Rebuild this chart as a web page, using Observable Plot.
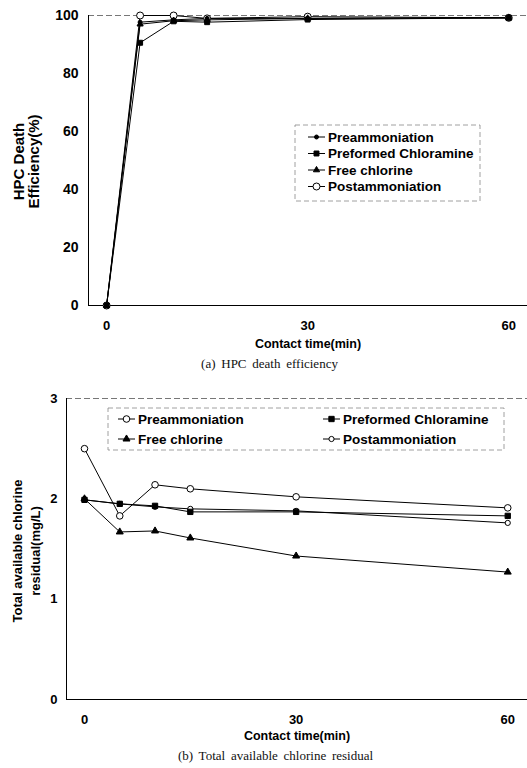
<!DOCTYPE html>
<html><head><meta charset="utf-8">
<script src="https://cdn.jsdelivr.net/npm/d3@7"></script>
<script src="https://cdn.jsdelivr.net/npm/@observablehq/plot@0.6"></script>
<style>
body{margin:0;background:#fff;}
#wrap{position:relative;width:527px;height:768px;overflow:hidden;font-family:"Liberation Sans",Arial,sans-serif;}
.caption{position:absolute;left:0;width:527px;font-family:"Liberation Serif","DejaVu Serif",serif;font-size:13px;word-spacing:2.5px;text-align:center;line-height:16px;color:#111;}
</style></head><body><div id="wrap"></div>
<script>
// ---- data ----
const series = ["Preammoniation","Preformed Chloramine","Free chlorine","Postammoniation"];
const xTicks = [0,30,60];
// (a) HPC death efficiency (%)
const timeA = [0,5,10,15,30,60];
const preA = [0,97.7,98.5,99,99,99.2];
const chloramineA = [0,90.6,98,97.7,98.6,99.2];
const freeA = [0,97,98.2,98.5,99,99.2];
const postA = [0,100,100,99,99.6,99.2];
const yTicksA = [0,20,40,60,80,100];
// (b) Total available chlorine residual (mg/L)
const timeB = [0,5,10,15,30,60];
const preB = [2.50,1.83,2.14,2.10,2.02,1.91];
const chloramineB = [1.99,1.95,1.93,1.87,1.87,1.83];
const freeB = [2.00,1.67,1.68,1.61,1.43,1.27];
const postB = [1.99,1.95,1.92,1.90,1.88,1.76];
const yTicksB = [0,1,2,3];

function tidy(time, arrays){
  const rows=[];
  series.forEach((s,i)=>time.forEach((t,j)=>rows.push({series:s,time:t,value:arrays[i][j]})));
  return rows;
}
const dataA = tidy(timeA,[preA,chloramineA,freeA,postA]);
const dataB = tidy(timeB,[preB,chloramineB,freeB,postB]);

const styleA = {
  "Preammoniation":{symbol:"circle",fill:"black",r:2},
  "Preformed Chloramine":{symbol:"square",fill:"black",r:2.8},
  "Free chlorine":{symbol:"triangle",fill:"black",r:2.3},
  "Postammoniation":{symbol:"circle",fill:"white",r:3.5}
};
const styleB = {
  "Preammoniation":{symbol:"circle",fill:"white",r:3.3},
  "Preformed Chloramine":{symbol:"square",fill:"black",r:3},
  "Free chlorine":{symbol:"triangle",fill:"black",r:2.6},
  "Postammoniation":{symbol:"circle",fill:"white",r:2.6}
};
const drawOrder = ["Postammoniation","Preammoniation","Free chlorine","Preformed Chloramine"];

const wrap = document.getElementById("wrap");
const fontFamily = "'Liberation Sans', Arial, sans-serif";

function chart({data, sty, xDomain, yDomain, yTicks, height, mt, mb, ml, yPad, yTickSize, yLabel, yLabelDx, yLabelDy, yLabelLH, yLabelSize, xLabelDy}){
  const dots = drawOrder.map(s => Plot.dot(data.filter(d=>d.series===s), {
    x:"time", y:"value", symbol:()=>sty[s].symbol, r:sty[s].r, fill:sty[s].fill, stroke:"black", strokeWidth:1
  }));
  return Plot.plot({
    width:527, height, marginTop:mt, marginBottom:mb, marginLeft:ml, marginRight:0,
    style:{background:"white", fontFamily, overflow:"visible"},
    x:{domain:xDomain},
    y:{domain:yDomain},
    symbol:{type:"identity"},
    marks:[
      Plot.ruleY([yDomain[1]], {stroke:"#777", strokeWidth:1, strokeDasharray:"6,3"}),
      Plot.ruleY([yDomain[0]], {stroke:"black", strokeWidth:1}),
      Plot.ruleX([xDomain[0]], {stroke:"black", strokeWidth:1}),
      Plot.axisY(yTicks, {tickSize:0, tickPadding:yPad, tickFormat:d=>String(d), fontSize:yTickSize, fontWeight:"bold", fill:"black", label:null}),
      Plot.axisX(xTicks, {tickSize:0, tickPadding:15, tickFormat:d=>String(d), fontSize:13, fontWeight:"bold", fill:"black", label:null}),
      Plot.line(data, {x:"time", y:"value", z:"series", stroke:"black", strokeWidth:1}),
      ...dots,
      Plot.text([yLabel], {text:d=>d, frameAnchor:"left", textAnchor:"middle", lineAnchor:"middle", dx:yLabelDx, dy:yLabelDy, rotate:-90, fontSize:yLabelSize, fontWeight:"bold", lineHeight:yLabelLH, fill:"black"}),
      Plot.text(["Contact time(min)"], {text:d=>d, frameAnchor:"bottom", lineAnchor:"middle", dy:xLabelDy, fontSize:12.5, fontWeight:"bold", fill:"black"})
    ]
  });
}

const a = chart({data:dataA, sty:styleA, xDomain:[-2.7,62.8], yDomain:[0,100], yTicks:yTicksA,
  height:352, mt:15, mb:47, ml:88, yPad:10, yTickSize:14, yLabel:"HPC Death\nEfficiency(%)", yLabelDx:-62, yLabelDy:1, yLabelLH:1.0, yLabelSize:15, xLabelDy:38});
a.style.position="absolute"; a.style.top="0px"; a.style.left="0px";
wrap.appendChild(a);

const b = chart({data:dataB, sty:styleB, xDomain:[-2.55,62.8], yDomain:[0,3], yTicks:yTicksB,
  height:367, mt:20, mb:46, ml:66, yPad:9, yTickSize:13, yLabel:"Total available chlorine\nresidual(mg/L)", yLabelDx:-41.5, yLabelDy:2, yLabelLH:1.45, yLabelSize:13, xLabelDy:36});
b.style.position="absolute"; b.style.top="378px"; b.style.left="0px";
wrap.appendChild(b);

const capA = document.createElement("div");
capA.className="caption"; capA.style.top="356px"; capA.style.paddingLeft="6px"; capA.textContent="(a) HPC death efficiency";
wrap.appendChild(capA);
const capB = document.createElement("div");
capB.className="caption"; capB.style.top="748px"; capB.style.paddingLeft="12px"; capB.textContent="(b) Total available chlorine residual";
wrap.appendChild(capB);

// ---- legends ----
const ov = d3.select(wrap).append("svg").attr("width",527).attr("height",768)
  .style("position","absolute").style("top",0).style("left",0).style("pointer-events","none");
const symMap = {circle:d3.symbolCircle, square:d3.symbolSquare, triangle:d3.symbolTriangle};
function legend(box, items, sty){
  ov.append("rect").attr("x",box.x).attr("y",box.y).attr("width",box.w).attr("height",box.h)
    .attr("fill","white").attr("stroke","#888").attr("stroke-dasharray","5,3").attr("stroke-width",0.8);
  items.forEach(it=>{
    const s = sty[it.label];
    ov.append("line").attr("x1",it.x).attr("x2",it.x+17).attr("y1",it.y).attr("y2",it.y).attr("stroke","black");
    ov.append("path").attr("d",d3.symbol(symMap[s.symbol], Math.PI*s.r*s.r)())
      .attr("transform",`translate(${it.x+8.5},${it.y})`).attr("fill",s.fill).attr("stroke","black");
    ov.append("text").attr("x",it.x+20).attr("y",it.y+4.8).text(it.label)
      .attr("font-family",fontFamily).attr("font-weight","bold").attr("font-size",13.5).attr("fill","black");
  });
}
legend({x:295,y:125,w:185,h:76}, [
  {label:series[0], x:308, y:137},
  {label:series[1], x:308, y:153.5},
  {label:series[2], x:308, y:170},
  {label:series[3], x:308, y:186.5}
], styleA);
legend({x:108,y:408,w:396,h:42}, [
  {label:series[0], x:118, y:419},
  {label:series[1], x:323, y:419},
  {label:series[2], x:118, y:439},
  {label:series[3], x:323, y:439}
], styleB);
</script></body></html>
